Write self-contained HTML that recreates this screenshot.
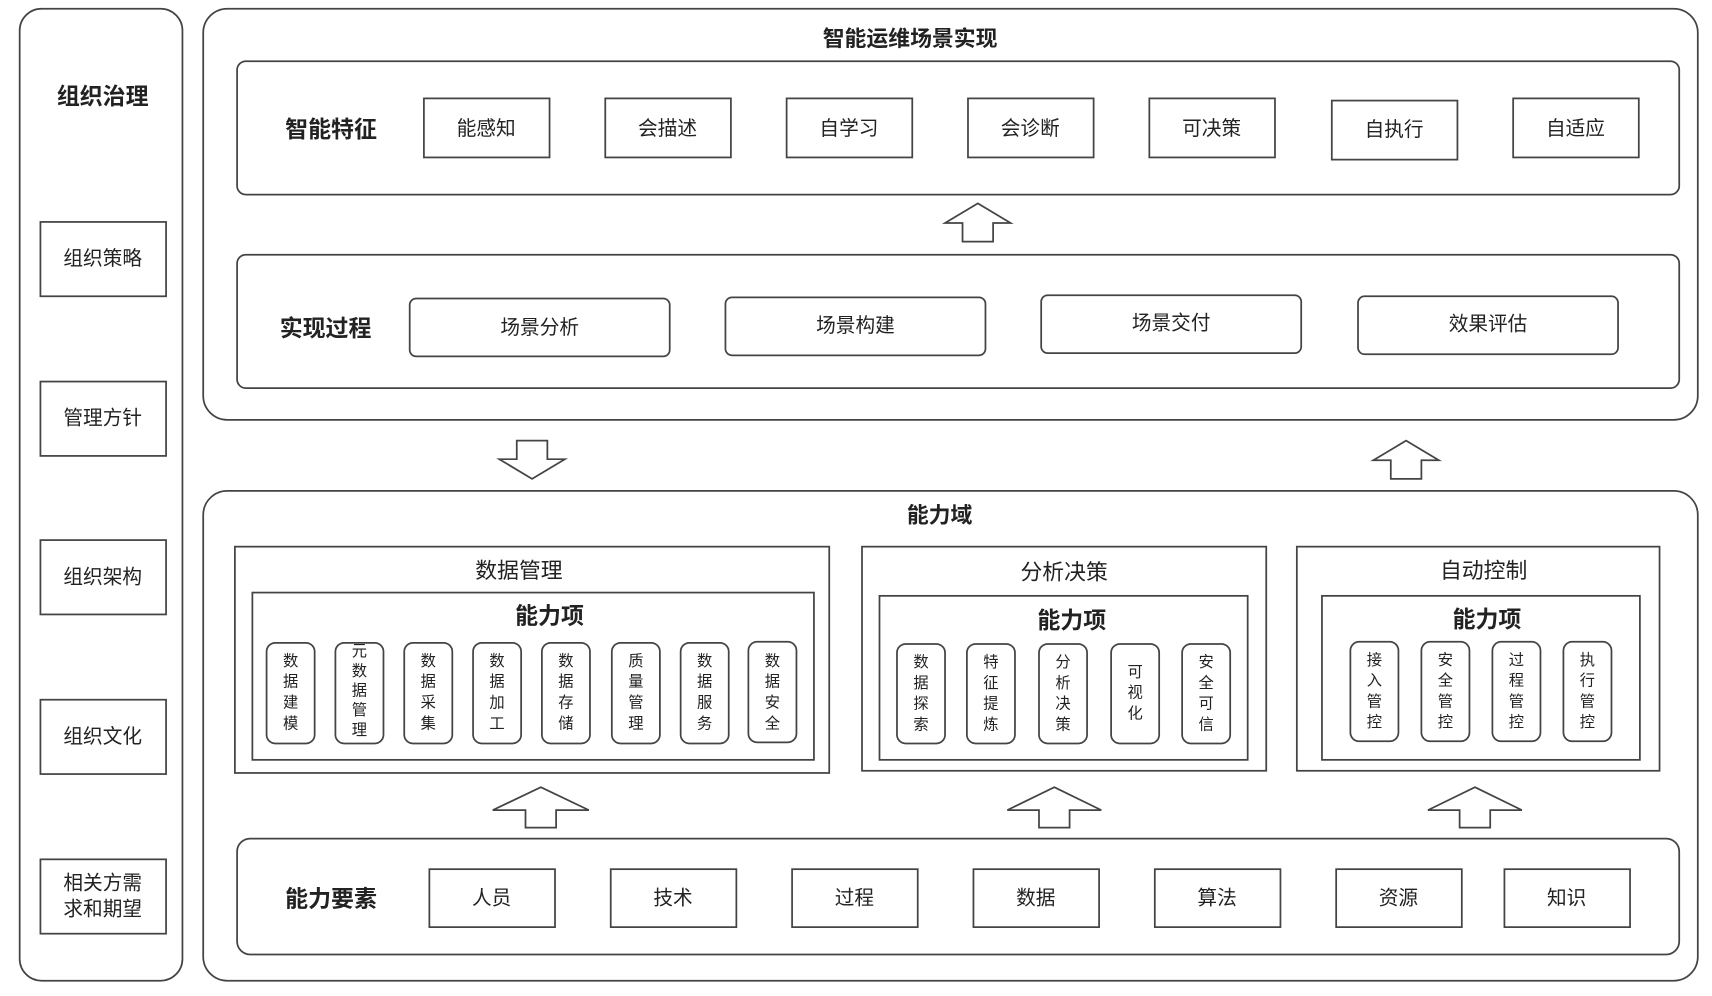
<!DOCTYPE html>
<html><head><meta charset="utf-8"><style>
html,body{margin:0;padding:0;background:#fff;}
svg{display:block;}
text{font-family:"Liberation Sans","Noto Sans CJK SC",sans-serif;fill:#222;text-anchor:middle;dominant-baseline:central;}
.b{font-weight:bold;}
rect,polygon{fill:#fff;stroke:#444;stroke-width:1.6;}
</style></head><body>
<svg width="1712" height="996" viewBox="0 0 1567 911" preserveAspectRatio="none">
<rect x="18" y="8" width="149" height="889" rx="20"/>
<text x="94" y="88" font-size="21" class="b">组织治理</text>
<rect x="37" y="203" width="115" height="68"/><text x="94" y="237" font-size="18">组织策略</text>
<rect x="37" y="349" width="115" height="68"/><text x="94" y="383" font-size="18">管理方针</text>
<rect x="37" y="494" width="115" height="68"/><text x="94" y="528" font-size="18">组织架构</text>
<rect x="37" y="640" width="115" height="68"/><text x="94" y="674" font-size="18">组织文化</text>
<rect x="37" y="786" width="115" height="68"/><text x="94" y="808" font-size="18">相关方需</text><text x="94" y="832" font-size="18">求和期望</text>

<rect x="186" y="8" width="1368" height="376" rx="22"/>
<text x="833" y="35" font-size="20" class="b">智能运维场景实现</text>
<rect x="217" y="56" width="1320" height="122" rx="8"/>
<text x="303" y="118" font-size="21" class="b">智能特征</text>
<rect x="388" y="90" width="115" height="54"/><text x="445" y="118" font-size="18">能感知</text>
<rect x="554" y="90" width="115" height="54"/><text x="611" y="118" font-size="18">会描述</text>
<rect x="720" y="90" width="115" height="54"/><text x="777" y="118" font-size="18">自学习</text>
<rect x="886" y="90" width="115" height="54"/><text x="943" y="118" font-size="18">会诊断</text>
<rect x="1052" y="90" width="115" height="54"/><text x="1109" y="118" font-size="18">可决策</text>
<rect x="1219" y="92" width="115" height="54"/><text x="1276" y="119" font-size="18">自执行</text>
<rect x="1385" y="90" width="115" height="54"/><text x="1442" y="118" font-size="18">自适应</text>
<polygon points="895,186 925,204 909,204 909,221 881,221 881,204 865,204"/>
<rect x="217" y="233" width="1320" height="122" rx="8"/>
<text x="298" y="300" font-size="21" class="b">实现过程</text>
<rect x="375" y="273" width="238" height="53" rx="6"/><text x="494" y="300" font-size="18">场景分析</text>
<rect x="664" y="272" width="238" height="53" rx="6"/><text x="783" y="298" font-size="18">场景构建</text>
<rect x="953" y="270" width="238" height="53" rx="6"/><text x="1072" y="296" font-size="18">场景交付</text>
<rect x="1243" y="271" width="238" height="53" rx="6"/><text x="1362" y="297" font-size="18">效果评估</text>

<polygon points="473,403 501,403 501,420 517,420 487,438 457,420 473,420"/>
<polygon points="1287,403 1317,421 1301,421 1301,438 1273,438 1273,421 1257,421"/>

<rect x="186" y="449" width="1368" height="448" rx="22"/>
<text x="860" y="471" font-size="20" class="b">能力域</text>

<rect x="215" y="500" width="544" height="207"/>
<text x="475" y="522" font-size="20">数据管理</text>
<rect x="231" y="542" width="514" height="153"/>
<text x="503" y="563" font-size="21" class="b">能力项</text>
<rect x="244" y="588" width="44" height="92" rx="8"/><text x="266" y="605" font-size="14">数</text><text x="266" y="624" font-size="14">据</text><text x="266" y="643" font-size="14">建</text><text x="266" y="662" font-size="14">模</text>
<rect x="307" y="588" width="44" height="92" rx="8"/><text x="329" y="596" font-size="14">元</text><text x="329" y="614" font-size="14">数</text><text x="329" y="632" font-size="14">据</text><text x="329" y="650" font-size="14">管</text><text x="329" y="668" font-size="14">理</text>
<rect x="370" y="588" width="44" height="92" rx="8"/><text x="392" y="605" font-size="14">数</text><text x="392" y="624" font-size="14">据</text><text x="392" y="643" font-size="14">采</text><text x="392" y="662" font-size="14">集</text>
<rect x="433" y="588" width="44" height="92" rx="8"/><text x="455" y="605" font-size="14">数</text><text x="455" y="624" font-size="14">据</text><text x="455" y="643" font-size="14">加</text><text x="455" y="662" font-size="14">工</text>
<rect x="496" y="588" width="44" height="92" rx="8"/><text x="518" y="605" font-size="14">数</text><text x="518" y="624" font-size="14">据</text><text x="518" y="643" font-size="14">存</text><text x="518" y="662" font-size="14">储</text>
<rect x="560" y="588" width="44" height="92" rx="8"/><text x="582" y="605" font-size="14">质</text><text x="582" y="624" font-size="14">量</text><text x="582" y="643" font-size="14">管</text><text x="582" y="662" font-size="14">理</text>
<rect x="623" y="588" width="44" height="92" rx="8"/><text x="645" y="605" font-size="14">数</text><text x="645" y="624" font-size="14">据</text><text x="645" y="643" font-size="14">服</text><text x="645" y="662" font-size="14">务</text>
<rect x="685" y="587" width="44" height="92" rx="8"/><text x="707" y="605" font-size="14">数</text><text x="707" y="624" font-size="14">据</text><text x="707" y="643" font-size="14">安</text><text x="707" y="662" font-size="14">全</text>

<rect x="789" y="500" width="370" height="205"/>
<text x="974" y="523" font-size="20">分析决策</text>
<rect x="805" y="545" width="337" height="150"/>
<text x="981" y="567" font-size="21" class="b">能力项</text>
<rect x="821" y="589" width="44" height="91" rx="8"/><text x="843" y="606" font-size="14">数</text><text x="843" y="625" font-size="14">据</text><text x="843" y="644" font-size="14">探</text><text x="843" y="663" font-size="14">索</text>
<rect x="885" y="589" width="44" height="91" rx="8"/><text x="907" y="606" font-size="14">特</text><text x="907" y="625" font-size="14">征</text><text x="907" y="644" font-size="14">提</text><text x="907" y="663" font-size="14">炼</text>
<rect x="951" y="589" width="44" height="91" rx="8"/><text x="973" y="606" font-size="14">分</text><text x="973" y="625" font-size="14">析</text><text x="973" y="644" font-size="14">决</text><text x="973" y="663" font-size="14">策</text>
<rect x="1017" y="589" width="44" height="91" rx="8"/><text x="1039" y="615" font-size="14">可</text><text x="1039" y="634" font-size="14">视</text><text x="1039" y="653" font-size="14">化</text>
<rect x="1082" y="589" width="44" height="91" rx="8"/><text x="1104" y="606" font-size="14">安</text><text x="1104" y="625" font-size="14">全</text><text x="1104" y="644" font-size="14">可</text><text x="1104" y="663" font-size="14">信</text>

<rect x="1187" y="500" width="332" height="205"/>
<text x="1358" y="522" font-size="20">自动控制</text>
<rect x="1210" y="545" width="291" height="150"/>
<text x="1361" y="566" font-size="21" class="b">能力项</text>
<rect x="1236" y="587" width="44" height="91" rx="8"/><text x="1258" y="604" font-size="14">接</text><text x="1258" y="623" font-size="14">入</text><text x="1258" y="642" font-size="14">管</text><text x="1258" y="661" font-size="14">控</text>
<rect x="1301" y="587" width="44" height="91" rx="8"/><text x="1323" y="604" font-size="14">安</text><text x="1323" y="623" font-size="14">全</text><text x="1323" y="642" font-size="14">管</text><text x="1323" y="661" font-size="14">控</text>
<rect x="1366" y="587" width="44" height="91" rx="8"/><text x="1388" y="604" font-size="14">过</text><text x="1388" y="623" font-size="14">程</text><text x="1388" y="642" font-size="14">管</text><text x="1388" y="661" font-size="14">控</text>
<rect x="1431" y="587" width="44" height="91" rx="8"/><text x="1453" y="604" font-size="14">执</text><text x="1453" y="623" font-size="14">行</text><text x="1453" y="642" font-size="14">管</text><text x="1453" y="661" font-size="14">控</text>

<polygon points="495,720 539,741 509,741 509,757 481,757 481,741 451,741"/>
<polygon points="965,720 1008,741 979,741 979,757 951,757 951,741 922,741"/>
<polygon points="1350,720 1393,741 1364,741 1364,757 1336,757 1336,741 1307,741"/>

<rect x="217" y="767" width="1320" height="106" rx="12"/>
<text x="303" y="822" font-size="21" class="b">能力要素</text>
<rect x="393" y="795" width="115" height="53"/><text x="450" y="822" font-size="18">人员</text>
<rect x="559" y="795" width="115" height="53"/><text x="616" y="822" font-size="18">技术</text>
<rect x="725" y="795" width="115" height="53"/><text x="782" y="822" font-size="18">过程</text>
<rect x="891" y="795" width="115" height="53"/><text x="948" y="822" font-size="18">数据</text>
<rect x="1057" y="795" width="115" height="53"/><text x="1114" y="822" font-size="18">算法</text>
<rect x="1223" y="795" width="115" height="53"/><text x="1280" y="822" font-size="18">资源</text>
<rect x="1377" y="795" width="115" height="53"/><text x="1434" y="822" font-size="18">知识</text>
</svg>
</body></html>
